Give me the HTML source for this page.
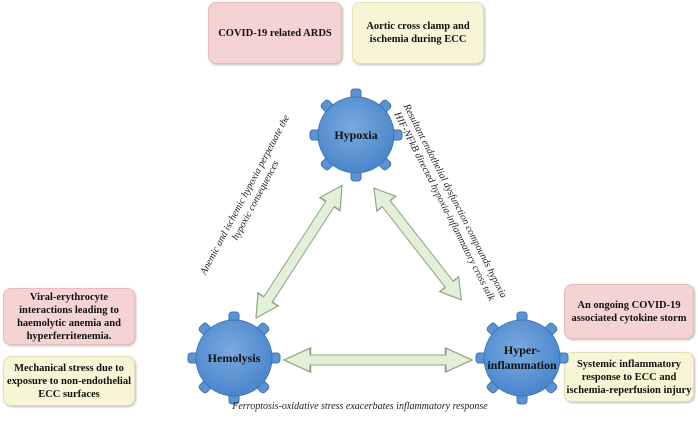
<!DOCTYPE html>
<html><head><style>
body{margin:0;width:698px;height:425px;background:#fff;position:relative;overflow:hidden;font-family:"Liberation Serif",serif}
.b{position:absolute;border-radius:8px;display:flex;align-items:center;justify-content:center;text-align:center;font-weight:bold;font-size:10.5px;line-height:13px;color:#111;box-shadow:1px 1px 2px #bbb}
.p{background:#f6d3d3;border:1px solid #e6bcbc}
.y{background:#f8f4d6;border:1px solid #e4dfb8}
.t{position:absolute;font-style:italic;font-size:10px;line-height:12px;text-align:center;white-space:nowrap;color:#222}
</style></head><body>
<div class="b p" style="left:208px;top:2px;width:132px;height:60px">COVID-19 related ARDS</div>
<div class="b y" style="left:352px;top:2px;width:130px;height:60px">Aortic cross clamp and<br>ischemia during ECC</div>
<div class="b p" style="left:3px;top:288px;width:130px;height:55px">Viral-erythrocyte<br>interactions leading to<br>haemolytic anemia and<br>hyperferritenemia.</div>
<div class="b y" style="left:3px;top:356px;width:130px;height:48px">Mechanical stress due to<br>exposure to non-endothelial<br>ECC surfaces</div>
<div class="b p" style="left:564px;top:284px;width:128px;height:53px">An ongoing COVID-19<br>associated cytokine storm</div>
<div class="b y" style="left:564px;top:352px;width:128px;height:48px">Systemic inflammatory<br>response to ECC and<br>ischemia-reperfusion injury</div>
<svg width="698" height="425" style="position:absolute;left:0;top:0">
<defs>
<radialGradient id="g" cx="45%" cy="40%" r="60%"><stop offset="0" stop-color="#7aa9de"/><stop offset="1" stop-color="#4a86cc"/></radialGradient>
<g id="gear">
<g fill="#5b93d3" stroke="#3f74b3" stroke-width="1">
<rect x="-5" y="-46" width="10" height="12" rx="3" transform="rotate(0)"/>
<rect x="-5" y="-46" width="10" height="12" rx="3" transform="rotate(45)"/>
<rect x="-5" y="-46" width="10" height="12" rx="3" transform="rotate(90)"/>
<rect x="-5" y="-46" width="10" height="12" rx="3" transform="rotate(135)"/>
<rect x="-5" y="-46" width="10" height="12" rx="3" transform="rotate(180)"/>
<rect x="-5" y="-46" width="10" height="12" rx="3" transform="rotate(225)"/>
<rect x="-5" y="-46" width="10" height="12" rx="3" transform="rotate(270)"/>
<rect x="-5" y="-46" width="10" height="12" rx="3" transform="rotate(315)"/>
</g>
<circle r="38" fill="url(#g)" stroke="#3f74b3" stroke-width="1"/>
</g>
<polygon id="arr" points="0,0 14,-12 14,-5 86,-5 86,-12 100,0 86,12 86,5 14,5 14,12" fill="#e2efd9" stroke="#8aa67e" stroke-width="1"/>
</defs>
<g transform="translate(256,318) rotate(-57) scale(1.58,1)"><use href="#arr"/></g>
<g transform="translate(374,188) rotate(52) scale(1.42,1)"><use href="#arr"/></g>
<g transform="translate(284,360) scale(1.88,1)"><use href="#arr"/></g>
<use href="#gear" x="356" y="135"/>
<use href="#gear" x="234" y="358"/>
<use href="#gear" x="522" y="358"/>
<g font-family="Liberation Serif,serif" font-weight="bold" font-size="12" text-anchor="middle" fill="#111">
<text x="356" y="139">Hypoxia</text>
<text x="234" y="362">Hemolysis</text>
<text x="522" y="354">Hyper-</text>
<text x="522" y="369">inflammation</text>
</g>
</svg>
<div class="t" style="left:251px;top:186px;width:0;"><div style="position:absolute;left:-130px;width:260px;transform:rotate(-62deg)">Anemic and ischemic hypoxia perpetuate the<br>hypoxic consequences</div></div>
<div class="t" style="left:449px;top:192px;width:0;"><div style="position:absolute;left:-140px;width:280px;transform:rotate(63deg)">Resultant endothelial dysfunction compounds hypoxia<br>HIF-NFkB directed hypoxia-inflammatory cross talk</div></div>
<div class="t" style="left:200px;top:401px;width:320px">Ferroptosis-oxidative stress exacerbates inflammatory response</div>
</body></html>
